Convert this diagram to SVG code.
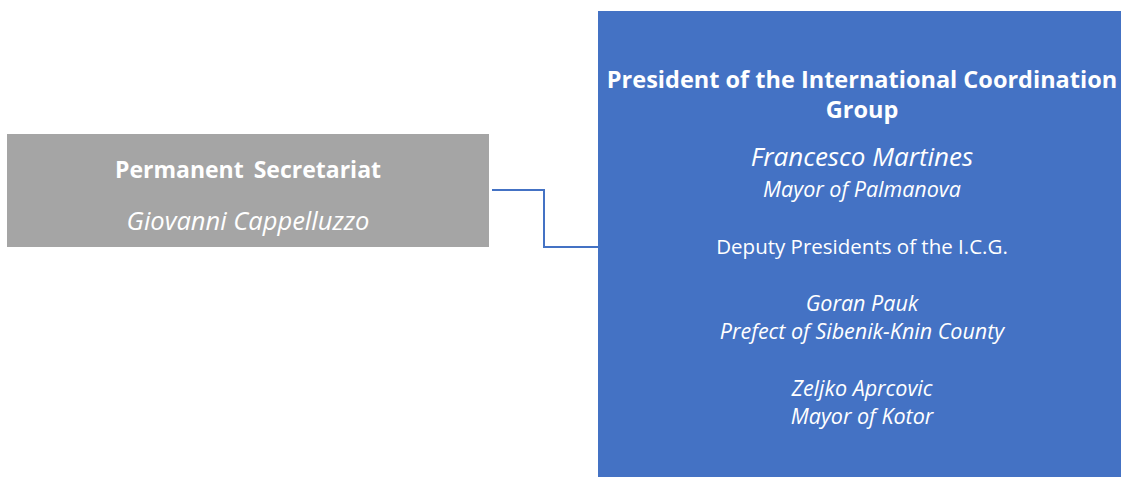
<svg xmlns="http://www.w3.org/2000/svg" width="1121" height="477" viewBox="0 0 1121 477">
<style>
text{font-family:"Open Sans","Noto Sans",sans-serif;fill:#ffffff;text-anchor:middle}
.b{font-weight:bold}
.i{font-style:italic}
.s{font-size:21.5px}
</style>
<rect width="1121" height="477" fill="#ffffff"/>
<g id="connectors">
<path d="M492 190 H544 V247 H598" fill="none" stroke="#4472C4" stroke-width="2"/>
</g>
<g id="node-secretariat">
<rect x="7" y="134" width="482" height="113" fill="#A5A5A5"/>
<text class="b" x="248" y="178" font-size="23" word-spacing="4">Permanent Secretariat</text>
<text class="i" x="248" y="230" font-size="25.5">Giovanni Cappelluzzo</text>
</g>
<g id="node-president">
<rect x="598" y="11" width="523" height="466" fill="#4472C4"/>
<text class="b" x="862" y="88" font-size="23.5">President of the International Coordination</text>
<text class="b" x="862" y="118" font-size="23.5">Group</text>
<text class="i" x="862" y="166" font-size="26">Francesco Martines</text>
<text class="i s" x="862" y="197">Mayor of Palmanova</text>
<text x="862" y="254" font-size="20.5">Deputy Presidents of the I.C.G.</text>
<text class="i s" x="862" y="311">Goran Pauk</text>
<text class="i s" x="862" y="339">Prefect of Sibenik-Knin County</text>
<text class="i s" x="862" y="396">Zeljko Aprcovic</text>
<text class="i s" x="862" y="424">Mayor of Kotor</text>
</g>
</svg>
